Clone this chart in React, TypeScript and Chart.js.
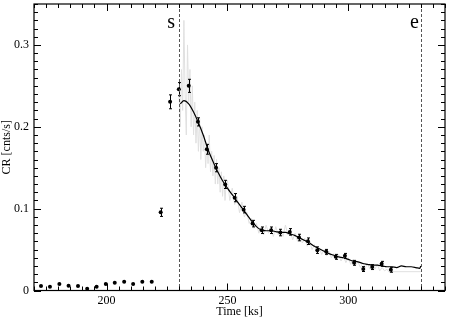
import { useEffect, useRef } from 'react';
import { Chart, registerables } from 'chart.js';
Chart.register(...registerables);

const X_MIN = 170;
const X_MAX = 340;
const Y_MIN = 0;
const Y_MAX = 0.35;
const X_TICKS = [200, 250, 300];
const Y_TICKS = [0, 0.1, 0.2, 0.3];
const X_MINOR_STEP = 5;
const Y_MINOR_STEP = 0.01;
const START_T = 230;
const END_T = 330;
const START_LABEL = 's';
const END_LABEL = 'e';

const PT_T = [172.9, 176.6, 180.5, 184.3, 188.2, 192.0, 195.9, 199.7, 203.4, 207.3, 211.0, 214.8, 218.7, 222.4, 226.3, 229.9, 234.0, 237.8, 241.5, 245.3, 249.1, 253.0, 256.7, 260.4, 264.2, 268.1, 271.9, 275.8, 279.6, 283.3, 287.2, 290.9, 294.8, 298.6, 302.4, 306.2, 309.9, 313.8, 317.6];
const PT_V = [0.0055, 0.0046, 0.0079, 0.0058, 0.0055, 0.0022, 0.0046, 0.0079, 0.0095, 0.0107, 0.0079, 0.0107, 0.0107, 0.0955, 0.2305, 0.246, 0.25, 0.206, 0.1725, 0.150, 0.1296, 0.1134, 0.0988, 0.0817, 0.0736, 0.0736, 0.0708, 0.0716, 0.0647, 0.0602, 0.0493, 0.0472, 0.0411, 0.0423, 0.0338, 0.0262, 0.0286, 0.0326, 0.0253];
const PT_ERR = [0.001, 0.001, 0.001, 0.001, 0.001, 0.001, 0.001, 0.001, 0.001, 0.001, 0.001, 0.001, 0.001, 0.005, 0.0085, 0.008, 0.008, 0.005, 0.006, 0.005, 0.005, 0.005, 0.004, 0.004, 0.004, 0.004, 0.004, 0.004, 0.004, 0.004, 0.004, 0.003, 0.003, 0.003, 0.003, 0.003, 0.003, 0.003, 0.003];

const MODEL_T = [230.5, 232, 234, 236, 238, 240, 242, 244, 246, 248, 250, 252, 254, 256, 258, 260, 262, 264, 266, 268, 270, 272, 274, 276, 278, 280, 282, 284, 286, 288, 290, 292, 294, 296, 298, 300, 302, 304, 306, 308, 310, 312, 314, 316, 318, 320, 322, 324, 326, 328, 329.5, 330];
const MODEL_V = [0.228, 0.232, 0.228, 0.218, 0.205, 0.19, 0.172, 0.158, 0.145, 0.134, 0.125, 0.117, 0.109, 0.101, 0.093, 0.085, 0.078, 0.074, 0.073, 0.073, 0.072, 0.071, 0.071, 0.069, 0.067, 0.064, 0.061, 0.058, 0.054, 0.051, 0.048, 0.045, 0.043, 0.041, 0.040, 0.038, 0.036, 0.035, 0.033, 0.032, 0.031, 0.031, 0.030, 0.029, 0.029, 0.028, 0.030, 0.029, 0.029, 0.028, 0.027, 0.030];

const LC_T = [230, 230.5, 231, 231.5, 232, 232.5, 233, 233.5, 234, 234.5, 235, 235.5, 236, 236.5, 237, 237.5, 238, 238.5, 239, 239.5, 240, 240.5, 241, 241.5, 242, 242.5, 243, 243.5, 244, 244.5, 245, 245.5, 246, 246.5, 247, 247.5, 248, 248.5, 249, 249.5, 250, 251, 252, 253, 254, 255, 256, 257, 258, 259, 260, 261, 262, 263, 264, 265, 266, 267, 268, 269, 270, 271, 272, 273, 274, 275, 276, 277, 278, 279, 280, 281, 282, 283, 284, 285, 286, 287, 288, 289, 290, 291, 292, 293, 294, 295, 296, 297, 298, 299, 300, 301, 302, 303, 304, 305, 306, 307, 308, 309, 310, 311, 312, 313, 314, 315, 316, 317, 318, 330];
const LC_V = [0.24, 0.20, 0.27, 0.22, 0.33, 0.24, 0.19, 0.30, 0.23, 0.27, 0.20, 0.25, 0.19, 0.23, 0.18, 0.22, 0.17, 0.21, 0.16, 0.20, 0.17, 0.19, 0.15, 0.18, 0.155, 0.19, 0.145, 0.17, 0.14, 0.165, 0.13, 0.16, 0.13, 0.15, 0.12, 0.145, 0.115, 0.14, 0.11, 0.13, 0.135, 0.11, 0.125, 0.105, 0.115, 0.095, 0.108, 0.09, 0.096, 0.082, 0.088, 0.076, 0.082, 0.07, 0.078, 0.068, 0.08, 0.07, 0.076, 0.066, 0.078, 0.068, 0.074, 0.066, 0.08, 0.068, 0.072, 0.062, 0.07, 0.06, 0.068, 0.058, 0.064, 0.054, 0.06, 0.05, 0.056, 0.046, 0.052, 0.044, 0.05, 0.042, 0.048, 0.04, 0.045, 0.038, 0.044, 0.036, 0.042, 0.034, 0.04, 0.032, 0.038, 0.031, 0.035, 0.028, 0.034, 0.028, 0.032, 0.026, 0.03, 0.026, 0.032, 0.024, 0.028, 0.024, 0.026, 0.022, 0.023, 0.023];

const FONT = "'Liberation Serif', 'Times New Roman', serif";

const decorPlugin = {
  id: 'decor',
  afterDatasetsDraw(chart: any) {
    const ctx = chart.ctx;
    const xs = chart.scales.x;
    const ys = chart.scales.y;
    const { left, right, top, bottom } = chart.chartArea;
    ctx.save();
    // error bars
    ctx.strokeStyle = '#000';
    ctx.lineWidth = 1;
    PT_T.forEach((t, i) => {
      const e = PT_ERR[i];
      if (e < 0.002) return;
      const px = Math.round(xs.getPixelForValue(t)) + 0.5;
      const y1 = ys.getPixelForValue(PT_V[i] - e);
      const y2 = ys.getPixelForValue(PT_V[i] + e);
      ctx.beginPath();
      ctx.moveTo(px, y1);
      ctx.lineTo(px, y2);
      ctx.moveTo(px - 1.5, y1);
      ctx.lineTo(px + 1.5, y1);
      ctx.moveTo(px - 1.5, y2);
      ctx.lineTo(px + 1.5, y2);
      ctx.stroke();
    });
    // dashed lines
    ctx.strokeStyle = '#555';
    ctx.lineWidth = 1;
    ctx.setLineDash([3, 2]);
    [START_T, END_T].forEach((t) => {
      const px = Math.round(xs.getPixelForValue(t)) + 0.5;
      ctx.beginPath();
      ctx.moveTo(px, top);
      ctx.lineTo(px, bottom);
      ctx.stroke();
    });
    ctx.setLineDash([]);
    // labels
    ctx.fillStyle = '#000';
    ctx.font = `20px ${FONT}`;
    ctx.textAlign = 'center';
    ctx.textBaseline = 'alphabetic';
    ctx.fillText(START_LABEL, xs.getPixelForValue(START_T) - 8, top + 24);
    ctx.fillText(END_LABEL, xs.getPixelForValue(END_T) - 6.5, top + 24);
    // frame
    ctx.strokeStyle = '#000';
    ctx.lineWidth = 1.2;
    ctx.strokeRect(left, top, right - left, bottom - top);
    // ticks
    ctx.lineWidth = 1;
    const MAJ = 7, MIN = 4;
    for (let v = X_MIN; v <= X_MAX + 1e-9; v += X_MINOR_STEP) {
      const px = Math.round(xs.getPixelForValue(v)) + 0.5;
      const major = X_TICKS.some((m) => Math.abs(m - v) < 1e-6);
      const len = major ? MAJ : MIN;
      ctx.beginPath();
      ctx.moveTo(px, bottom);
      ctx.lineTo(px, bottom - len);
      ctx.moveTo(px, top);
      ctx.lineTo(px, top + len);
      ctx.stroke();
    }
    for (let k = 0; k * Y_MINOR_STEP <= Y_MAX + 1e-9; k++) {
      const v = Y_MIN + k * Y_MINOR_STEP;
      const py = Math.round(ys.getPixelForValue(v)) + 0.5;
      const major = Y_TICKS.some((m) => Math.abs(m - v) < 1e-6);
      const len = major ? MAJ : MIN;
      ctx.beginPath();
      ctx.moveTo(left, py);
      ctx.lineTo(left + len, py);
      ctx.moveTo(right, py);
      ctx.lineTo(right - len, py);
      ctx.stroke();
    }
    ctx.restore();
  },
};

export default function App() {
  const ref = useRef<HTMLCanvasElement>(null);
  useEffect(() => {
    document.body.style.margin = '0';
    const chart = new Chart(ref.current!, {
      type: 'line',
      data: {
        datasets: [
          {
            label: 'points',
            data: PT_T.map((t, i) => ({ x: t, y: PT_V[i] })),
            showLine: false,
            pointRadius: 2,
            pointBackgroundColor: '#000',
            pointBorderColor: '#000',
            pointBorderWidth: 0,
            order: 0,
          },
          {
            label: 'model',
            data: MODEL_T.map((t, i) => ({ x: t, y: MODEL_V[i] })),
            borderColor: '#000',
            borderWidth: 1.2,
            pointRadius: 0,
            cubicInterpolationMode: 'monotone',
            order: 1,
          },
          {
            label: 'lc',
            data: LC_T.map((t, i) => ({ x: t, y: LC_V[i] })),
            borderColor: '#e0e0e0',
            borderWidth: 1,
            pointRadius: 0,
            tension: 0,
            order: 2,
          },
        ],
      },
      options: {
        animation: false,
        responsive: false,
        maintainAspectRatio: false,
        layout: { padding: { top: 3, right: 3, left: 0, bottom: 0 } },
        plugins: { legend: { display: false }, tooltip: { enabled: false } },
        scales: {
          x: {
            type: 'linear',
            min: X_MIN,
            max: X_MAX,
            grid: { display: false, drawTicks: false },
            border: { display: false },
            afterBuildTicks: (s: any) => { s.ticks = X_TICKS.map((v) => ({ value: v })); },
            afterFit: (s: any) => { s.height = 28.5; s.paddingLeft = 0; s.paddingRight = 0; },
            ticks: { color: '#000', font: { family: FONT, size: 12 }, padding: 3, maxRotation: 0 },
            title: { display: true, text: 'Time [ks]', color: '#000', font: { family: FONT, size: 12 }, padding: 0 },
          },
          y: {
            type: 'linear',
            min: Y_MIN,
            max: Y_MAX,
            grid: { display: false, drawTicks: false },
            border: { display: false },
            afterBuildTicks: (s: any) => { s.ticks = Y_TICKS.map((v) => ({ value: v })); },
            afterFit: (s: any) => { s.width = 34; s.paddingTop = 0; s.paddingBottom = 0; },
            ticks: { color: '#000', font: { family: FONT, size: 12 }, padding: 5 },
            title: { display: true, text: 'CR [cnts/s]', color: '#000', font: { family: FONT, size: 12 }, padding: 0 },
          },
        },
      },
      plugins: [decorPlugin],
    } as any);
    return () => chart.destroy();
  }, []);
  return (
    <div style={{ width: 449, height: 319 }}>
      <canvas ref={ref} width={449} height={319} style={{ display: 'block', width: 449, height: 319 }} />
    </div>
  );
}
